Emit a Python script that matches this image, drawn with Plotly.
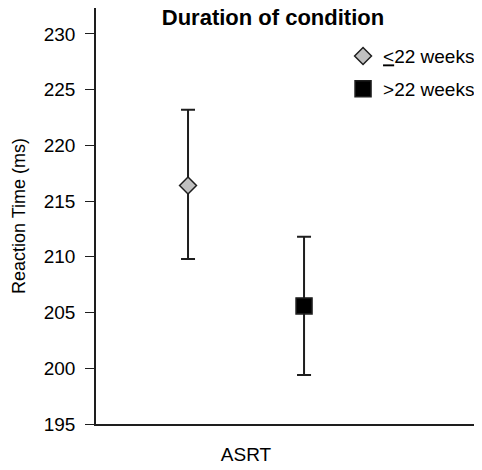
import plotly.graph_objects as go

categories = ["ASRT"]
series_names = ["<u>&lt;</u>22 weeks", ">22 weeks"]
means = [[216.4], [205.6]]
err_plus = [[6.8], [6.2]]
err_minus = [[6.6], [6.2]]
y_ticks = [195, 200, 205, 210, 215, 220, 225, 230]

symbols = ["diamond", "square"]
fills = ["#c0c0c0", "#000000"]
sizes = [13, 16]

FONT = "Liberation Sans, Arial, Helvetica, sans-serif"
INK = "#1e1e1e"

W, H = 474, 462

fig = go.Figure()
for i, name in enumerate(series_names):
    fig.add_trace(go.Scatter(
        x=categories, y=means[i], name=name, mode="markers",
        offsetgroup=str(i), legendgroup=str(i),
        marker=dict(symbol=symbols[i], size=sizes[i], color=fills[i],
                    line=dict(color=INK, width=1.5)),
        error_y=dict(type="data", symmetric=False, array=err_plus[i],
                     arrayminus=err_minus[i], color=INK, thickness=2, width=7),
    ))

fig.update_layout(
    width=W, height=H,
    margin=dict(l=88, r=0, t=0, b=46, autoexpand=False),
    paper_bgcolor="white", plot_bgcolor="white",
    font=dict(family=FONT, size=18, color="black"),
    scattermode="group", scattergap=0,
    showlegend=True,
    legend=dict(x=0.64, xanchor="left", y=0.930, yanchor="top",
                font=dict(size=19), tracegroupgap=5, traceorder="grouped",
                bgcolor="rgba(0,0,0,0)", itemwidth=30),
    title=dict(text="<b>Duration of condition</b>", x=0.4585, xref="paper",
               xanchor="center", y=1 - 9 / H, yref="container", yanchor="middle",
               font=dict(size=22, color="black")),
)
fig.update_xaxes(
    type="category", range=[-0.6466, 1.017], showgrid=False, zeroline=False,
    showline=True, linecolor=INK, linewidth=1.6, ticks="", ticklabelstandoff=12,
    tickfont=dict(size=19), automargin=False,
)
fig.update_yaxes(
    range=[195, 232.33], tickvals=y_ticks, showgrid=False, zeroline=False,
    showline=True, linecolor=INK, linewidth=1.6, ticks="outside", ticklen=9,
    tickcolor=INK, tickwidth=1.2, ticklabelstandoff=6, tickfont=dict(size=19),
    title=dict(text="Reaction Time (ms)", font=dict(size=18), standoff=13),
    automargin=False,
)
fig.write_html("out.html")
